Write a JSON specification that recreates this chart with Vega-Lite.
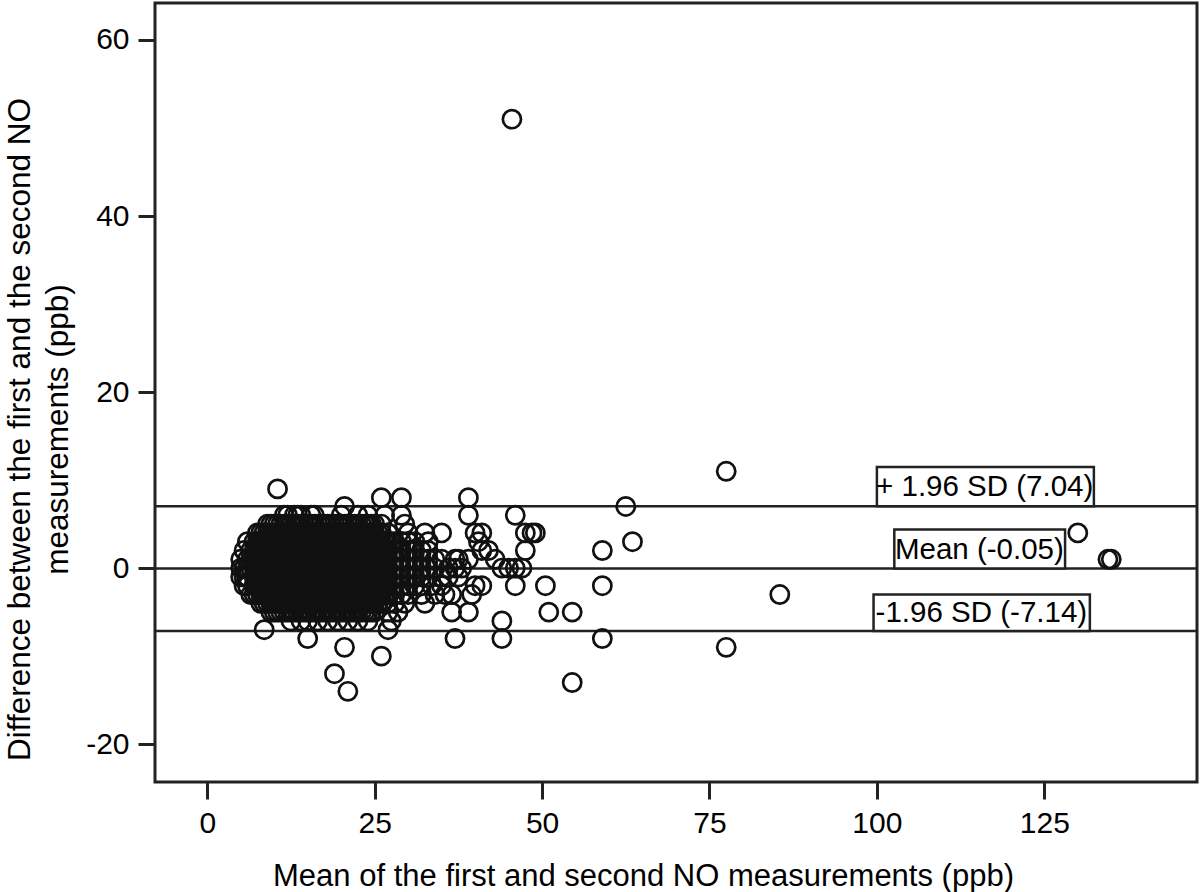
{
  "$schema": "https://vega.github.io/schema/vega-lite/v6.json",
  "width": 1042,
  "height": 779,
  "autosize": {"type": "none"},
  "padding": {"left": 155, "top": 3, "right": 3, "bottom": 110},
  "background": "white",
  "config": {
    "view": {"stroke": "#222", "strokeWidth": 3},
    "font": "Liberation Sans",
    "axis": {
      "domain": false,
      "grid": false,
      "tickColor": "#222",
      "tickWidth": 3,
      "tickSize": 17,
      "labelFont": "Liberation Sans",
      "labelFontSize": 30,
      "labelColor": "#000",
      "labelPadding": 9,
      "labelExpr": "'' + datum.value",
      "titleFont": "Liberation Sans",
      "titleFontSize": 31,
      "titleFontWeight": "normal",
      "titleColor": "#000"
    }
  },
  "datasets": {
    "pts": [
      {"m":5,"d":0},{"m":5,"d":1},{"m":5,"d":-1},
      {"m":5.5,"d":0},{"m":5.5,"d":2},{"m":5.5,"d":-1},{"m":5.5,"d":-2},
      {"m":6,"d":1},{"m":6,"d":-1},{"m":6,"d":0},{"m":6,"d":3},{"m":6,"d":-2},
      {"m":6.5,"d":2},{"m":6.5,"d":-3},{"m":6.5,"d":0},{"m":6.5,"d":1},
      {"m":7,"d":-3},{"m":7,"d":-2},{"m":7,"d":-1},{"m":7,"d":0},{"m":7,"d":1},{"m":7,"d":2},{"m":7,"d":3},
      {"m":7.5,"d":4},{"m":7.5,"d":-2},{"m":7.5,"d":0},{"m":7.5,"d":2},{"m":7.5,"d":-1},{"m":7.5,"d":1},{"m":7.5,"d":3},{"m":7.5,"d":-3},
      {"m":8,"d":-4},{"m":8,"d":-3},{"m":8,"d":-2},{"m":8,"d":-1},{"m":8,"d":0},{"m":8,"d":1},{"m":8,"d":2},{"m":8,"d":3},{"m":8,"d":4},
      {"m":8.5,"d":-7},{"m":8.5,"d":1},{"m":8.5,"d":-1},{"m":8.5,"d":3},{"m":8.5,"d":-3},{"m":8.5,"d":-4},{"m":8.5,"d":-2},{"m":8.5,"d":0},{"m":8.5,"d":2},{"m":8.5,"d":4},
      {"m":9,"d":-4},{"m":9,"d":-3},{"m":9,"d":-2},{"m":9,"d":-1},{"m":9,"d":0},{"m":9,"d":1},{"m":9,"d":2},{"m":9,"d":3},{"m":9,"d":4},{"m":9,"d":5},
      {"m":9.5,"d":-5},{"m":9.5,"d":0},{"m":9.5,"d":2},{"m":9.5,"d":-2},{"m":9.5,"d":4},{"m":9.5,"d":-4},{"m":9.5,"d":-3},{"m":9.5,"d":-1},{"m":9.5,"d":1},{"m":9.5,"d":3},{"m":9.5,"d":5},
      {"m":10,"d":-5},{"m":10,"d":-4},{"m":10,"d":-3},{"m":10,"d":-2},{"m":10,"d":-1},{"m":10,"d":0},{"m":10,"d":1},{"m":10,"d":2},{"m":10,"d":3},{"m":10,"d":4},{"m":10,"d":5},
      {"m":10.5,"d":9},{"m":10.5,"d":-4},{"m":10.5,"d":3},{"m":10.5,"d":0},{"m":10.5,"d":-1},{"m":10.5,"d":-5},{"m":10.5,"d":-3},{"m":10.5,"d":-2},{"m":10.5,"d":1},{"m":10.5,"d":2},{"m":10.5,"d":4},{"m":10.5,"d":5},
      {"m":11,"d":-5},{"m":11,"d":-4},{"m":11,"d":-3},{"m":11,"d":-2},{"m":11,"d":-1},{"m":11,"d":0},{"m":11,"d":1},{"m":11,"d":2},{"m":11,"d":3},{"m":11,"d":4},{"m":11,"d":5},
      {"m":11.5,"d":6},{"m":11.5,"d":-3},{"m":11.5,"d":1},{"m":11.5,"d":-5},{"m":11.5,"d":-4},{"m":11.5,"d":-2},{"m":11.5,"d":-1},{"m":11.5,"d":0},{"m":11.5,"d":2},{"m":11.5,"d":3},{"m":11.5,"d":4},{"m":11.5,"d":5},
      {"m":12,"d":-5},{"m":12,"d":-4},{"m":12,"d":-3},{"m":12,"d":-2},{"m":12,"d":-1},{"m":12,"d":0},{"m":12,"d":1},{"m":12,"d":2},{"m":12,"d":3},{"m":12,"d":4},{"m":12,"d":5},{"m":12,"d":6},
      {"m":12.5,"d":5},{"m":12.5,"d":-6},{"m":12.5,"d":2},{"m":12.5,"d":-2},{"m":12.5,"d":-5},{"m":12.5,"d":-4},{"m":12.5,"d":-3},{"m":12.5,"d":-1},{"m":12.5,"d":0},{"m":12.5,"d":1},{"m":12.5,"d":3},{"m":12.5,"d":4},
      {"m":13,"d":-5},{"m":13,"d":-4},{"m":13,"d":-3},{"m":13,"d":-2},{"m":13,"d":-1},{"m":13,"d":0},{"m":13,"d":1},{"m":13,"d":2},{"m":13,"d":3},{"m":13,"d":4},{"m":13,"d":5},{"m":13,"d":6},
      {"m":13.5,"d":6},{"m":13.5,"d":-4},{"m":13.5,"d":0},{"m":13.5,"d":3},{"m":13.5,"d":-5},{"m":13.5,"d":-3},{"m":13.5,"d":-2},{"m":13.5,"d":-1},{"m":13.5,"d":1},{"m":13.5,"d":2},{"m":13.5,"d":4},{"m":13.5,"d":5},
      {"m":14,"d":-6},{"m":14,"d":-5},{"m":14,"d":-4},{"m":14,"d":-3},{"m":14,"d":-2},{"m":14,"d":-1},{"m":14,"d":0},{"m":14,"d":1},{"m":14,"d":2},{"m":14,"d":3},{"m":14,"d":4},{"m":14,"d":5},{"m":14,"d":6},
      {"m":14.5,"d":5},{"m":14.5,"d":-5},{"m":14.5,"d":1},{"m":14.5,"d":-2},{"m":14.5,"d":-4},{"m":14.5,"d":-3},{"m":14.5,"d":-1},{"m":14.5,"d":0},{"m":14.5,"d":2},{"m":14.5,"d":3},{"m":14.5,"d":4},
      {"m":15,"d":-8},{"m":15,"d":-6},{"m":15,"d":-5},{"m":15,"d":-4},{"m":15,"d":-3},{"m":15,"d":-2},{"m":15,"d":-1},{"m":15,"d":0},{"m":15,"d":1},{"m":15,"d":2},{"m":15,"d":3},{"m":15,"d":4},{"m":15,"d":5},
      {"m":15.5,"d":6},{"m":15.5,"d":-3},{"m":15.5,"d":2},{"m":15.5,"d":-5},{"m":15.5,"d":-4},{"m":15.5,"d":-2},{"m":15.5,"d":-1},{"m":15.5,"d":0},{"m":15.5,"d":1},{"m":15.5,"d":3},{"m":15.5,"d":4},{"m":15.5,"d":5},
      {"m":16,"d":-5},{"m":16,"d":-4},{"m":16,"d":-3},{"m":16,"d":-2},{"m":16,"d":-1},{"m":16,"d":0},{"m":16,"d":1},{"m":16,"d":2},{"m":16,"d":3},{"m":16,"d":4},{"m":16,"d":5},{"m":16,"d":6},
      {"m":16.5,"d":-6},{"m":16.5,"d":4},{"m":16.5,"d":0},{"m":16.5,"d":-5},{"m":16.5,"d":-4},{"m":16.5,"d":-3},{"m":16.5,"d":-2},{"m":16.5,"d":-1},{"m":16.5,"d":1},{"m":16.5,"d":2},{"m":16.5,"d":3},{"m":16.5,"d":5},
      {"m":17,"d":-5},{"m":17,"d":-4},{"m":17,"d":-3},{"m":17,"d":-2},{"m":17,"d":-1},{"m":17,"d":0},{"m":17,"d":1},{"m":17,"d":2},{"m":17,"d":3},{"m":17,"d":4},{"m":17,"d":5},
      {"m":17.5,"d":5},{"m":17.5,"d":-4},{"m":17.5,"d":1},{"m":17.5,"d":-5},{"m":17.5,"d":-3},{"m":17.5,"d":-2},{"m":17.5,"d":-1},{"m":17.5,"d":0},{"m":17.5,"d":2},{"m":17.5,"d":3},{"m":17.5,"d":4},
      {"m":18,"d":-6},{"m":18,"d":-5},{"m":18,"d":-4},{"m":18,"d":-3},{"m":18,"d":-2},{"m":18,"d":-1},{"m":18,"d":0},{"m":18,"d":1},{"m":18,"d":2},{"m":18,"d":3},{"m":18,"d":4},{"m":18,"d":5},
      {"m":18.5,"d":3},{"m":18.5,"d":-2},{"m":18.5,"d":-5},{"m":18.5,"d":-4},{"m":18.5,"d":-3},{"m":18.5,"d":-1},{"m":18.5,"d":0},{"m":18.5,"d":1},{"m":18.5,"d":2},{"m":18.5,"d":4},{"m":18.5,"d":5},
      {"m":19,"d":-12},{"m":19,"d":-5},{"m":19,"d":-4},{"m":19,"d":-3},{"m":19,"d":-2},{"m":19,"d":-1},{"m":19,"d":0},{"m":19,"d":1},{"m":19,"d":2},{"m":19,"d":3},{"m":19,"d":4},{"m":19,"d":5},
      {"m":19.5,"d":-6},{"m":19.5,"d":4},{"m":19.5,"d":-5},{"m":19.5,"d":-4},{"m":19.5,"d":-3},{"m":19.5,"d":-2},{"m":19.5,"d":-1},{"m":19.5,"d":0},{"m":19.5,"d":1},{"m":19.5,"d":2},{"m":19.5,"d":3},{"m":19.5,"d":5},
      {"m":20,"d":-5},{"m":20,"d":-4},{"m":20,"d":-3},{"m":20,"d":-2},{"m":20,"d":-1},{"m":20,"d":0},{"m":20,"d":1},{"m":20,"d":2},{"m":20,"d":3},{"m":20,"d":4},{"m":20,"d":5},{"m":20,"d":6},
      {"m":20.5,"d":7},{"m":20.5,"d":-9},{"m":20.5,"d":-3},{"m":20.5,"d":1},{"m":20.5,"d":-5},{"m":20.5,"d":-4},{"m":20.5,"d":-2},{"m":20.5,"d":-1},{"m":20.5,"d":0},{"m":20.5,"d":2},{"m":20.5,"d":3},{"m":20.5,"d":4},{"m":20.5,"d":5},
      {"m":21,"d":-14},{"m":21,"d":-6},{"m":21,"d":-5},{"m":21,"d":-4},{"m":21,"d":-3},{"m":21,"d":-2},{"m":21,"d":-1},{"m":21,"d":0},{"m":21,"d":1},{"m":21,"d":2},{"m":21,"d":3},{"m":21,"d":4},{"m":21,"d":5},
      {"m":21.5,"d":5},{"m":21.5,"d":-2},{"m":21.5,"d":-5},{"m":21.5,"d":-4},{"m":21.5,"d":-3},{"m":21.5,"d":-1},{"m":21.5,"d":0},{"m":21.5,"d":1},{"m":21.5,"d":2},{"m":21.5,"d":3},{"m":21.5,"d":4},
      {"m":22,"d":-5},{"m":22,"d":-4},{"m":22,"d":-3},{"m":22,"d":-2},{"m":22,"d":-1},{"m":22,"d":0},{"m":22,"d":1},{"m":22,"d":2},{"m":22,"d":3},{"m":22,"d":4},{"m":22,"d":5},
      {"m":22.5,"d":6},{"m":22.5,"d":-6},{"m":22.5,"d":0},{"m":22.5,"d":-5},{"m":22.5,"d":-4},{"m":22.5,"d":-3},{"m":22.5,"d":-2},{"m":22.5,"d":-1},{"m":22.5,"d":1},{"m":22.5,"d":2},{"m":22.5,"d":3},{"m":22.5,"d":4},{"m":22.5,"d":5},
      {"m":23,"d":-5},{"m":23,"d":-4},{"m":23,"d":-3},{"m":23,"d":-2},{"m":23,"d":-1},{"m":23,"d":0},{"m":23,"d":1},{"m":23,"d":2},{"m":23,"d":3},{"m":23,"d":4},{"m":23,"d":5},
      {"m":23.5,"d":4},{"m":23.5,"d":-3},{"m":23.5,"d":-5},{"m":23.5,"d":-4},{"m":23.5,"d":-2},{"m":23.5,"d":-1},{"m":23.5,"d":0},{"m":23.5,"d":1},{"m":23.5,"d":2},{"m":23.5,"d":3},{"m":23.5,"d":5},
      {"m":24,"d":-6},{"m":24,"d":-5},{"m":24,"d":-4},{"m":24,"d":-3},{"m":24,"d":-2},{"m":24,"d":-1},{"m":24,"d":0},{"m":24,"d":1},{"m":24,"d":2},{"m":24,"d":3},{"m":24,"d":4},{"m":24,"d":5},{"m":24,"d":6},
      {"m":24.5,"d":5},{"m":24.5,"d":-1},{"m":24.5,"d":-5},{"m":24.5,"d":-4},{"m":24.5,"d":-3},{"m":24.5,"d":-2},{"m":24.5,"d":0},{"m":24.5,"d":1},{"m":24.5,"d":2},{"m":24.5,"d":3},{"m":24.5,"d":4},
      {"m":25,"d":-5},{"m":25,"d":-4},{"m":25,"d":-3},{"m":25,"d":-2},{"m":25,"d":-1},{"m":25,"d":0},{"m":25,"d":1},{"m":25,"d":2},{"m":25,"d":3},{"m":25,"d":4},{"m":25,"d":5},
      {"m":25.5,"d":-4},{"m":25.5,"d":2},{"m":25.5,"d":-3},{"m":25.5,"d":-2},{"m":25.5,"d":-1},{"m":25.5,"d":0},{"m":25.5,"d":1},{"m":25.5,"d":3},{"m":25.5,"d":4},
      {"m":26,"d":8},{"m":26,"d":-10},{"m":26,"d":-4},{"m":26,"d":-3},{"m":26,"d":-2},{"m":26,"d":-1},{"m":26,"d":0},{"m":26,"d":1},{"m":26,"d":2},{"m":26,"d":3},{"m":26,"d":4},{"m":26,"d":5},
      {"m":26.5,"d":6},{"m":26.5,"d":-2},{"m":26.5,"d":-3},{"m":26.5,"d":-1},{"m":26.5,"d":0},{"m":26.5,"d":1},{"m":26.5,"d":2},{"m":26.5,"d":3},
      {"m":27,"d":-7},{"m":27,"d":-5},{"m":27,"d":-4},{"m":27,"d":-3},{"m":27,"d":-2},{"m":27,"d":-1},{"m":27,"d":0},{"m":27,"d":1},{"m":27,"d":2},{"m":27,"d":3},{"m":27,"d":4},
      {"m":27.5,"d":3},{"m":27.5,"d":-6},
      {"m":28,"d":-4},{"m":28,"d":-3},{"m":28,"d":-2},{"m":28,"d":-1},{"m":28,"d":0},{"m":28,"d":1},{"m":28,"d":2},{"m":28,"d":3},
      {"m":28.5,"d":2},{"m":28.5,"d":-5},
      {"m":29,"d":8},{"m":29,"d":6},{"m":29,"d":-3},{"m":29,"d":-2},{"m":29,"d":-1},{"m":29,"d":0},{"m":29,"d":1},{"m":29,"d":2},{"m":29,"d":3},
      {"m":29.5,"d":5},{"m":29.5,"d":-4},
      {"m":30,"d":-3},{"m":30,"d":-2},{"m":30,"d":-1},{"m":30,"d":0},{"m":30,"d":1},{"m":30,"d":2},{"m":30,"d":3},{"m":30,"d":4},
      {"m":30.5,"d":2},{"m":30.5,"d":-1},
      {"m":31,"d":-2},{"m":31,"d":-1},{"m":31,"d":0},{"m":31,"d":1},{"m":31,"d":2},{"m":31,"d":3},
      {"m":32,"d":-3},{"m":32,"d":-2},{"m":32,"d":-1},{"m":32,"d":0},{"m":32,"d":1},{"m":32,"d":2},
      {"m":32.5,"d":4},{"m":32.5,"d":-4},
      {"m":33,"d":-1},{"m":33,"d":0},{"m":33,"d":1},{"m":33,"d":2},{"m":33,"d":3},
      {"m":33.5,"d":-2},
      {"m":34,"d":0},{"m":34,"d":1},{"m":34,"d":-3},
      {"m":35,"d":4},{"m":35,"d":1},{"m":35,"d":-1},{"m":35,"d":-2},
      {"m":35.5,"d":-3},
      {"m":36,"d":0},{"m":36,"d":-1},
      {"m":36.5,"d":-5},{"m":36.5,"d":-3},
      {"m":37,"d":-8},{"m":37,"d":0},{"m":37,"d":1},
      {"m":37.5,"d":1},{"m":37.5,"d":-1},
      {"m":38,"d":0},
      {"m":39,"d":8},{"m":39,"d":6},{"m":39,"d":-5},{"m":39,"d":1},
      {"m":39.5,"d":-3},
      {"m":40,"d":4},{"m":40,"d":-2},
      {"m":40.5,"d":3},
      {"m":41,"d":4},{"m":41,"d":-2},{"m":41,"d":2},
      {"m":42,"d":2},
      {"m":43,"d":1},
      {"m":44,"d":-6},{"m":44,"d":-8},{"m":44,"d":0},
      {"m":45,"d":0},
      {"m":45.5,"d":51},
      {"m":46,"d":6},{"m":46,"d":0},{"m":46,"d":-2},
      {"m":47,"d":0},
      {"m":47.5,"d":2},{"m":47.5,"d":4},
      {"m":48.5,"d":4},
      {"m":49,"d":4},
      {"m":50.5,"d":-2},
      {"m":51,"d":-5},
      {"m":54.5,"d":-5},{"m":54.5,"d":-13},
      {"m":59,"d":2},{"m":59,"d":-2},{"m":59,"d":-8},
      {"m":62.5,"d":7},
      {"m":63.5,"d":3},
      {"m":77.5,"d":11},{"m":77.5,"d":-9},
      {"m":85.5,"d":-3},
      {"m":130,"d":4},
      {"m":134.5,"d":1},
      {"m":135,"d":1}
    ],
    "lines": [
      {"v": 7.04},
      {"v": -0.05},
      {"v": -7.14}
    ],
    "labels": [
      {"label": "+ 1.96 SD (7.04)", "x0": 100.0, "x1": 132.4, "y0": 7.04, "y1": 11.5, "tx": 116.1, "ty": 9.2},
      {"label": "Mean (-0.05)", "x0": 102.6, "x1": 128.1, "y0": -0.05, "y1": 4.4, "tx": 115.3, "ty": 2.1},
      {"label": "-1.96 SD (-7.14)", "x0": 99.5, "x1": 131.8, "y0": -7.14, "y1": -3.0, "tx": 115.6, "ty": -5.1}
    ]
  },
  "layer": [
    {
      "data": {"name": "lines"},
      "mark": {"type": "rule", "color": "#222", "strokeWidth": 2.5},
      "encoding": {
        "y": {"field": "v", "type": "quantitative", "scale": {"domain": [-24.3, 64.2], "nice": false, "zero": false},
          "axis": {"values": [-20, 0, 20, 40, 60], "title": ["Difference between the first and the second NO", "measurements (ppb)"], "titleX": -126, "titleY": 426, "titleBaseline": "alphabetic", "titleAlign": "center", "titleLineHeight": 38, "titleFontSize": 31.5}}
      }
    },
    {
      "data": {"name": "labels"},
      "mark": {"type": "rect", "fill": "white", "stroke": "#222", "strokeWidth": 2.5},
      "encoding": {
        "x": {"field": "x0", "type": "quantitative", "scale": {"domain": [-7.8, 147.8], "nice": false, "zero": false},
          "axis": {"values": [0, 25, 50, 75, 100, 125], "title": "Mean of the first and second NO measurements (ppb)", "titleX": 488, "titleY": 103, "titleBaseline": "alphabetic", "titleAnchor": "middle", "titleAlign": "center"}},
        "x2": {"field": "x1"},
        "y": {"field": "y0", "type": "quantitative", "scale": {"domain": [-24.3, 64.2], "nice": false, "zero": false},
          "axis": {"values": [-20, 0, 20, 40, 60], "title": ["Difference between the first and the second NO", "measurements (ppb)"], "titleX": -126, "titleY": 426, "titleBaseline": "alphabetic", "titleAlign": "center", "titleLineHeight": 38, "titleFontSize": 31.5}},
        "y2": {"field": "y1"}
      }
    },
    {
      "data": {"name": "labels"},
      "mark": {"type": "text", "font": "Liberation Sans", "fontSize": 29.5, "color": "#000", "align": "center", "baseline": "middle"},
      "encoding": {
        "x": {"field": "tx", "type": "quantitative", "scale": {"domain": [-7.8, 147.8], "nice": false, "zero": false},
          "axis": {"values": [0, 25, 50, 75, 100, 125], "title": "Mean of the first and second NO measurements (ppb)", "titleX": 488, "titleY": 103, "titleBaseline": "alphabetic", "titleAnchor": "middle", "titleAlign": "center"}},
        "y": {"field": "ty", "type": "quantitative", "scale": {"domain": [-24.3, 64.2], "nice": false, "zero": false},
          "axis": {"values": [-20, 0, 20, 40, 60], "title": ["Difference between the first and the second NO", "measurements (ppb)"], "titleX": -126, "titleY": 426, "titleBaseline": "alphabetic", "titleAlign": "center", "titleLineHeight": 38, "titleFontSize": 31.5}},
        "text": {"field": "label"}
      }
    },
    {
      "data": {"name": "pts"},
      "mark": {"type": "point", "shape": "circle", "filled": false, "stroke": "#111", "strokeWidth": 2.7, "size": 330, "opacity": 1},
      "encoding": {
        "x": {
          "field": "m", "type": "quantitative",
          "scale": {"domain": [-7.8, 147.8], "nice": false, "zero": false},
          "axis": {"values": [0, 25, 50, 75, 100, 125], "title": "Mean of the first and second NO measurements (ppb)", "titleX": 488, "titleY": 103, "titleBaseline": "alphabetic", "titleAnchor": "middle", "titleAlign": "center"}
        },
        "y": {
          "field": "d", "type": "quantitative",
          "scale": {"domain": [-24.3, 64.2], "nice": false, "zero": false},
          "axis": {"values": [-20, 0, 20, 40, 60], "title": ["Difference between the first and the second NO", "measurements (ppb)"], "titleX": -126, "titleY": 426, "titleBaseline": "alphabetic", "titleAlign": "center", "titleLineHeight": 38, "titleFontSize": 31.5}
        }
      }
    }
  ]
}
